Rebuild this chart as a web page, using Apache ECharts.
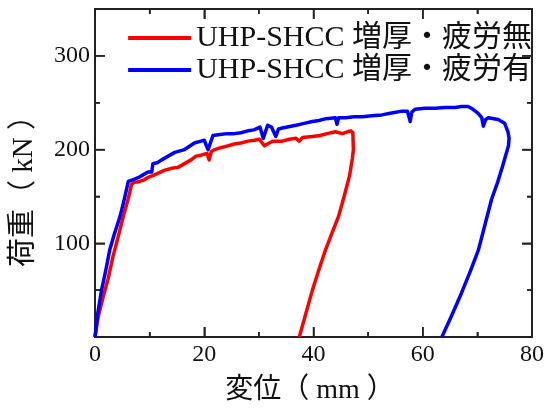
<!DOCTYPE html>
<html>
<head>
<meta charset="utf-8">
<script src="https://cdn.jsdelivr.net/npm/echarts@6/dist/echarts.min.js"></script>
<style>
  html, body { margin: 0; padding: 0; background: #fff; }
  #chart { width: 547px; height: 410px; }
</style>
</head>
<body>
<div id="chart"></div>
<script>
// 荷重-変位曲線（値は図から読み取り）
const seriesNames = ['UHP-SHCC 増厚・疲労無', 'UHP-SHCC 増厚・疲労有']
const xTitle = '変位（ mm ）'
const yTitle = '荷重（ kN ）'

const redDisp = [0, 0.6, 1.5, 2.4, 3.3, 4.2, 5.2, 6.1, 6.7, 7.2, 8.2, 9.1, 9.6, 10.9, 12.8, 14.0, 15.2, 16.4, 17.6, 18.5, 19.4, 20.5, 20.9, 21.3, 21.9, 23.0, 24.3, 25.5, 26.7, 28.0, 29.2, 30.1, 31.0, 31.9, 32.6, 34.3, 35.6, 36.8, 37.4, 38.0, 39.8, 41.2, 42.5, 44.0, 45.3, 46.2, 46.8, 47.2, 47.3, 47.1, 46.6, 45.6, 44.6, 43.4, 42.2, 41.0, 39.8, 38.6, 37.4]
const redLoad = [0, 22, 43, 62, 86, 106, 129, 148, 163, 165, 166, 168, 170, 173, 178, 180, 181, 185, 189, 193, 194, 196, 189, 198, 200, 202, 204, 206, 207, 209, 210, 211, 204, 207, 209, 209, 211, 212, 209, 213, 214, 215, 217, 219, 217, 219, 220, 218, 200, 190, 172, 150, 129, 111, 93, 72, 50, 25, 0]

const blueDisp = [0, 0.5, 1.2, 2.0, 2.7, 3.6, 4.6, 5.4, 6.1, 7.0, 7.9, 8.8, 9.7, 10.4, 10.6, 11.4, 12.2, 13.4, 14.6, 16.4, 18.2, 19.4, 20.0, 20.4, 20.7, 21.6, 22.9, 24.2, 25.5, 26.7, 28.0, 29.1, 30.2, 30.5, 30.8, 31.6, 32.3, 33.1, 33.6, 34.3, 36.8, 38.3, 39.8, 41.0, 42.3, 44.0, 44.3, 44.6, 45.9, 47.4, 48.9, 50.7, 52.5, 54.3, 56.2, 57.2, 57.7, 58.0, 58.6, 60.4, 62.3, 64.1, 65.9, 67.1, 68.3, 69.2, 70.1, 70.8, 71.1, 71.5, 72.0, 73.8, 75.0, 75.6, 75.8, 75.7, 75.3, 74.6, 73.7, 72.6, 71.4, 70.2, 68.7, 67.1, 65.3, 63.5]
const blueLoad = [0, 25, 50, 72, 93, 111, 129, 148, 166, 168, 170, 173, 176, 176, 185, 186, 189, 193, 197, 200, 207, 209, 210, 204, 200, 215, 216, 217, 217, 218, 220, 221, 224, 225, 212, 226, 224, 214, 222, 223, 226, 228, 230, 231, 233, 234, 227, 234, 234, 235, 235, 236, 237, 239, 241, 241, 230, 240, 243, 244, 244, 245, 245, 246, 246, 243, 239, 234, 225, 232, 234, 232, 228, 219, 212, 204, 196, 182, 165, 147, 120, 93, 70, 47, 23, 0]

const xMin = 0, xMax = 80, xStep = 20
const yMin = 0, yMax = 350, yStep = 100

// 目盛位置（主目盛と副目盛）
const xTicks = [0, 10, 20, 30, 40, 50, 60, 70, 80]
const yTicks = [0, 50, 100, 150, 200, 250, 300]

const toPairs = (xs, ys) => xs.map((x, i) => [x, ys[i]])

const chart = echarts.init(document.getElementById('chart'))

const serif = "'Liberation Serif', 'Noto Sans CJK JP', serif"
const ink = '#222'

function frame() {
  return { show: true, onZero: false, lineStyle: { color: ink, width: 2 } }
}
function tick() {
  return { show: true, inside: true, length: 10, lineStyle: { color: ink, width: 1.5 } }
}
function minor() {
  return { show: true, splitNumber: 2, length: 5, lineStyle: { color: ink, width: 1.5 } }
}

function xAxisOf(position, showLabel) {
  return {
    type: 'value', position: position, min: xMin, max: xMax, interval: xStep,
    axisLine: frame(), axisTick: tick(), minorTick: minor(),
    splitLine: { show: false },
    axisLabel: { show: showLabel, margin: 6, fontSize: 24, fontFamily: serif, color: '#111' }
  }
}

function yAxisOf(position, showLabel) {
  return {
    type: 'value', position: position, min: yMin, max: yMax, interval: yStep,
    axisLine: frame(), axisTick: tick(), minorTick: minor(),
    splitLine: { show: false },
    axisLabel: {
      show: showLabel, margin: 5, fontSize: 24, fontFamily: serif, color: '#111',
      formatter: v => (v > yMin && v % yStep === 0 && v < yMax) ? String(v) : ''
    }
  }
}

// 四辺の内向き目盛を座標系から描く
function tickLine(x1, y1, x2, y2) {
  return { type: 'line', shape: { x1: x1, y1: y1, x2: x2, y2: y2 }, style: { stroke: ink, lineWidth: 1.5 } }
}

function renderXTick(params, api) {
  const v = api.value(0)
  const len = v % xStep === 0 ? 10 : 5
  const b = api.coord([v, yMin])
  const t = api.coord([v, yMax])
  return { type: 'group', children: [tickLine(b[0], b[1], b[0], b[1] - len), tickLine(t[0], t[1], t[0], t[1] + len)] }
}

function renderYTick(params, api) {
  const v = api.value(1)
  const len = v % yStep === 0 ? 10 : 5
  const l = api.coord([xMin, v])
  const r = api.coord([xMax, v])
  return { type: 'group', children: [tickLine(l[0], l[1], l[0] + len, l[1]), tickLine(r[0], r[1], r[0] - len, r[1])] }
}

chart.setOption({
  animation: false,
  grid: { left: 95, right: 13, top: 9, bottom: 73, show: true, borderColor: ink, borderWidth: 2, backgroundColor: 'transparent' },
  legend: {
    orient: 'vertical', right: 10, top: 17, itemGap: 0,
    itemWidth: 63, itemHeight: 4, icon: 'rect',
    textStyle: { fontSize: 30, fontFamily: serif, color: '#111', lineHeight: 32 },
    data: seriesNames
  },
  // 軸タイトル
  graphic: [
    {
      type: 'text', x: 310, y: 391,
      style: { text: xTitle, fontSize: 28, fontFamily: serif, fill: '#111', align: 'center', verticalAlign: 'middle' }
    },
    {
      type: 'text', x: 24, y: 184, rotation: Math.PI / 2,
      style: { text: yTitle, fontSize: 29, fontFamily: serif, fill: '#111', align: 'center', verticalAlign: 'middle' }
    }
  ],
  xAxis: [xAxisOf('bottom', true), xAxisOf('top', false)],
  yAxis: [yAxisOf('left', true), yAxisOf('right', false)],
  series: [
    {
      type: 'custom', silent: true, clip: false,
      data: xTicks.map(v => [v, yMin]),
      renderItem: renderXTick
    },
    {
      type: 'custom', silent: true, clip: false,
      data: yTicks.map(v => [xMin, v]),
      renderItem: renderYTick
    },
    {
      name: seriesNames[0], type: 'line', showSymbol: false, symbol: 'none',
      data: toPairs(redDisp, redLoad),
      lineStyle: { color: '#ff0000', width: 3.5, join: 'round' },
      itemStyle: { color: '#ff0000' }
    },
    {
      name: seriesNames[1], type: 'line', showSymbol: false, symbol: 'none',
      data: toPairs(blueDisp, blueLoad),
      lineStyle: { color: '#0000ff', width: 3.5, join: 'round' },
      itemStyle: { color: '#0000ff' }
    }
  ]
})
</script>
</body>
</html>
